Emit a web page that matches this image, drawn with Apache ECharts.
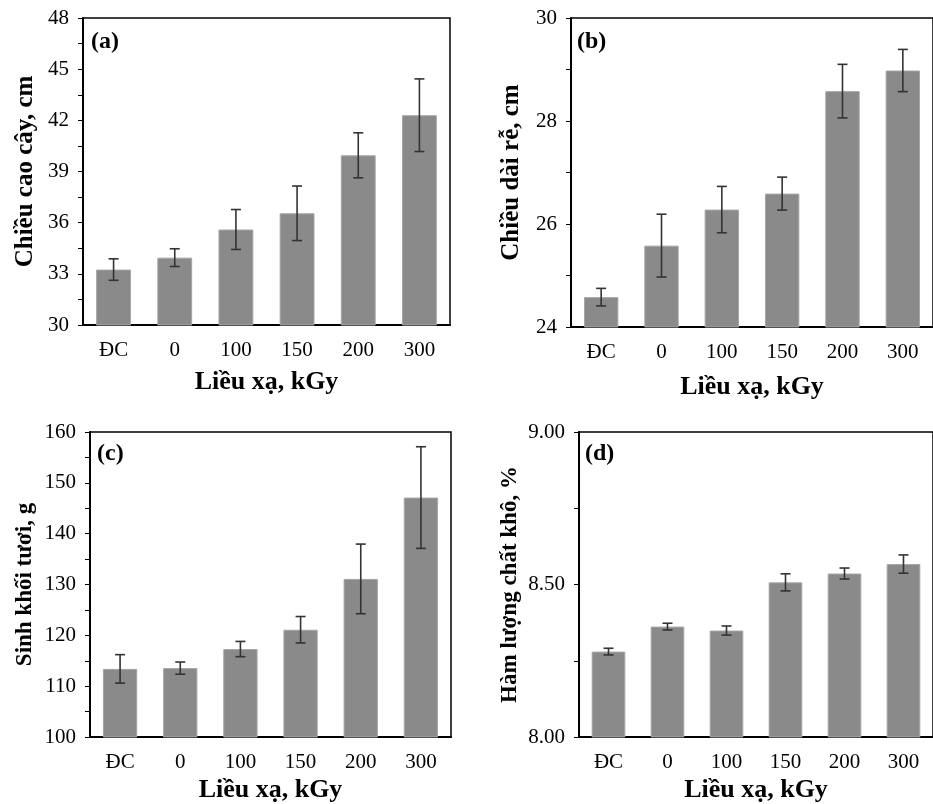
<!DOCTYPE html>
<html>
<head>
<meta charset="utf-8">
<script src="https://cdn.jsdelivr.net/npm/echarts@6/dist/echarts.min.js"></script>
<style>
  html, body { margin: 0; padding: 0; background: #fff; }
  #chart { width: 933px; height: 804px; }
</style>
</head>
<body>
<div id="chart"></div>
<script>
const categories = ['ĐC', '0', '100', '150', '200', '300']

// (a) chiều cao cây
const heightMean = [33.25, 33.95, 35.6, 36.55, 39.95, 42.3]
const heightErr = [0.63, 0.52, 1.17, 1.6, 1.32, 2.13]
// (b) chiều dài rễ
const rootMean = [24.58, 25.58, 26.28, 26.59, 28.58, 28.98]
const rootErr = [0.17, 0.61, 0.45, 0.32, 0.52, 0.41]
// (c) sinh khối tươi
const massMean = [113.4, 113.55, 117.3, 121.1, 131.1, 147.1]
const massErr = [2.8, 1.2, 1.5, 2.6, 6.85, 10.0]
// (d) hàm lượng chất khô
const dryMean = [8.28, 8.362, 8.349, 8.507, 8.536, 8.567]
const dryErr = [0.011, 0.011, 0.015, 0.028, 0.018, 0.03]

const panels = [
  { tag: '(a)', yName: 'Chiều cao cây, cm', mean: heightMean, err: heightErr, min: 30, max: 48, interval: 3, digits: 0,
    grid: { left: 83, top: 18, width: 367, height: 307 }, yGap: 45, yFont: 25, xGap: 44, tagPos: [91, 43] },
  { tag: '(b)', yName: 'Chiều dài rễ, cm', mean: rootMean, err: rootErr, min: 24, max: 30, interval: 2, digits: 0,
    grid: { left: 571, top: 18, width: 368, height: 309 }, yGap: 47, yFont: 25, xGap: 47, tagPos: [577, 43] },
  { tag: '(c)', yName: 'Sinh khối tươi, g', mean: massMean, err: massErr, min: 100, max: 160, interval: 10, digits: 0,
    grid: { left: 90, top: 432, width: 361, height: 307 }, yGap: 53, yFont: 23, xGap: 40, tagPos: [97, 455] },
  { tag: '(d)', yName: 'Hàm lượng chất khô, %', mean: dryMean, err: dryErr, min: 8, max: 9, interval: 0.5, digits: 2,
    grid: { left: 579, top: 432, width: 361, height: 307 }, yGap: 57, yFont: 23, xGap: 40, tagPos: [585, 455] }
]

const serif = 'Liberation Serif, Times New Roman, serif'

function errorBar(params, api) {
  const x = api.value(0)
  const hi = api.coord([x, api.value(2)])
  const lo = api.coord([x, api.value(1)])
  const cap = 5
  const style = { stroke: '#333', lineWidth: 1.6 }
  return {
    type: 'group',
    children: [
      { type: 'line', shape: { x1: hi[0], y1: hi[1], x2: lo[0], y2: lo[1] }, style },
      { type: 'line', shape: { x1: hi[0] - cap, y1: hi[1], x2: hi[0] + cap, y2: hi[1] }, style },
      { type: 'line', shape: { x1: lo[0] - cap, y1: lo[1], x2: lo[0] + cap, y2: lo[1] }, style }
    ]
  }
}

const chart = echarts.init(document.getElementById('chart'))

chart.setOption({
  animation: false,
  grid: panels.map(p => Object.assign({ show: true, borderColor: '#000', borderWidth: 1.5, containLabel: false }, p.grid)),
  xAxis: panels.map((p, i) => ({
    type: 'category',
    gridIndex: i,
    data: categories,
    name: 'Liều xạ, kGy',
    nameLocation: 'middle',
    nameGap: p.xGap,
    nameTextStyle: { fontFamily: serif, fontWeight: 'bold', fontSize: 26, color: '#000' },
    axisLine: { lineStyle: { color: '#000', width: 2 } },
    axisTick: { show: false },
    axisLabel: { fontFamily: serif, fontSize: 21, color: '#000', margin: 15 },
    splitLine: { show: false }
  })),
  yAxis: panels.map((p, i) => ({
    type: 'value',
    gridIndex: i,
    min: p.min,
    max: p.max,
    interval: p.interval,
    name: p.yName,
    nameLocation: 'middle',
    nameGap: p.yGap,
    nameRotate: 90,
    nameTextStyle: { fontFamily: serif, fontWeight: 'bold', fontSize: p.yFont, color: '#000' },
    axisLine: { show: true, lineStyle: { color: '#000', width: 2 } },
    axisTick: { show: true, inside: false, length: 5, lineStyle: { color: '#000', width: 1 } },
    minorTick: { show: true, splitNumber: 2, length: 5, lineStyle: { color: '#000', width: 1 } },
    axisLabel: {
      fontFamily: serif, fontSize: 21, color: '#000', margin: 14,
      formatter: v => v.toFixed(p.digits)
    },
    splitLine: { show: false }
  })),
  series: panels.flatMap((p, i) => [
    {
      type: 'bar',
      xAxisIndex: i,
      yAxisIndex: i,
      data: p.mean,
      barWidth: '57%',
      itemStyle: { color: '#8a8a8a', borderColor: '#a6a6a6', borderWidth: 1 }
    },
    {
      type: 'custom',
      xAxisIndex: i,
      yAxisIndex: i,
      renderItem: errorBar,
      data: p.mean.map((m, k) => [k, m - p.err[k], m + p.err[k]]),
      z: 5
    }
  ]),
  graphic: panels.map(p => ({
    type: 'text',
    left: p.tagPos[0],
    top: p.tagPos[1] - 13,
    style: { text: p.tag, font: 'bold 24px ' + serif, fill: '#000' }
  }))
})
</script>
</body>
</html>
